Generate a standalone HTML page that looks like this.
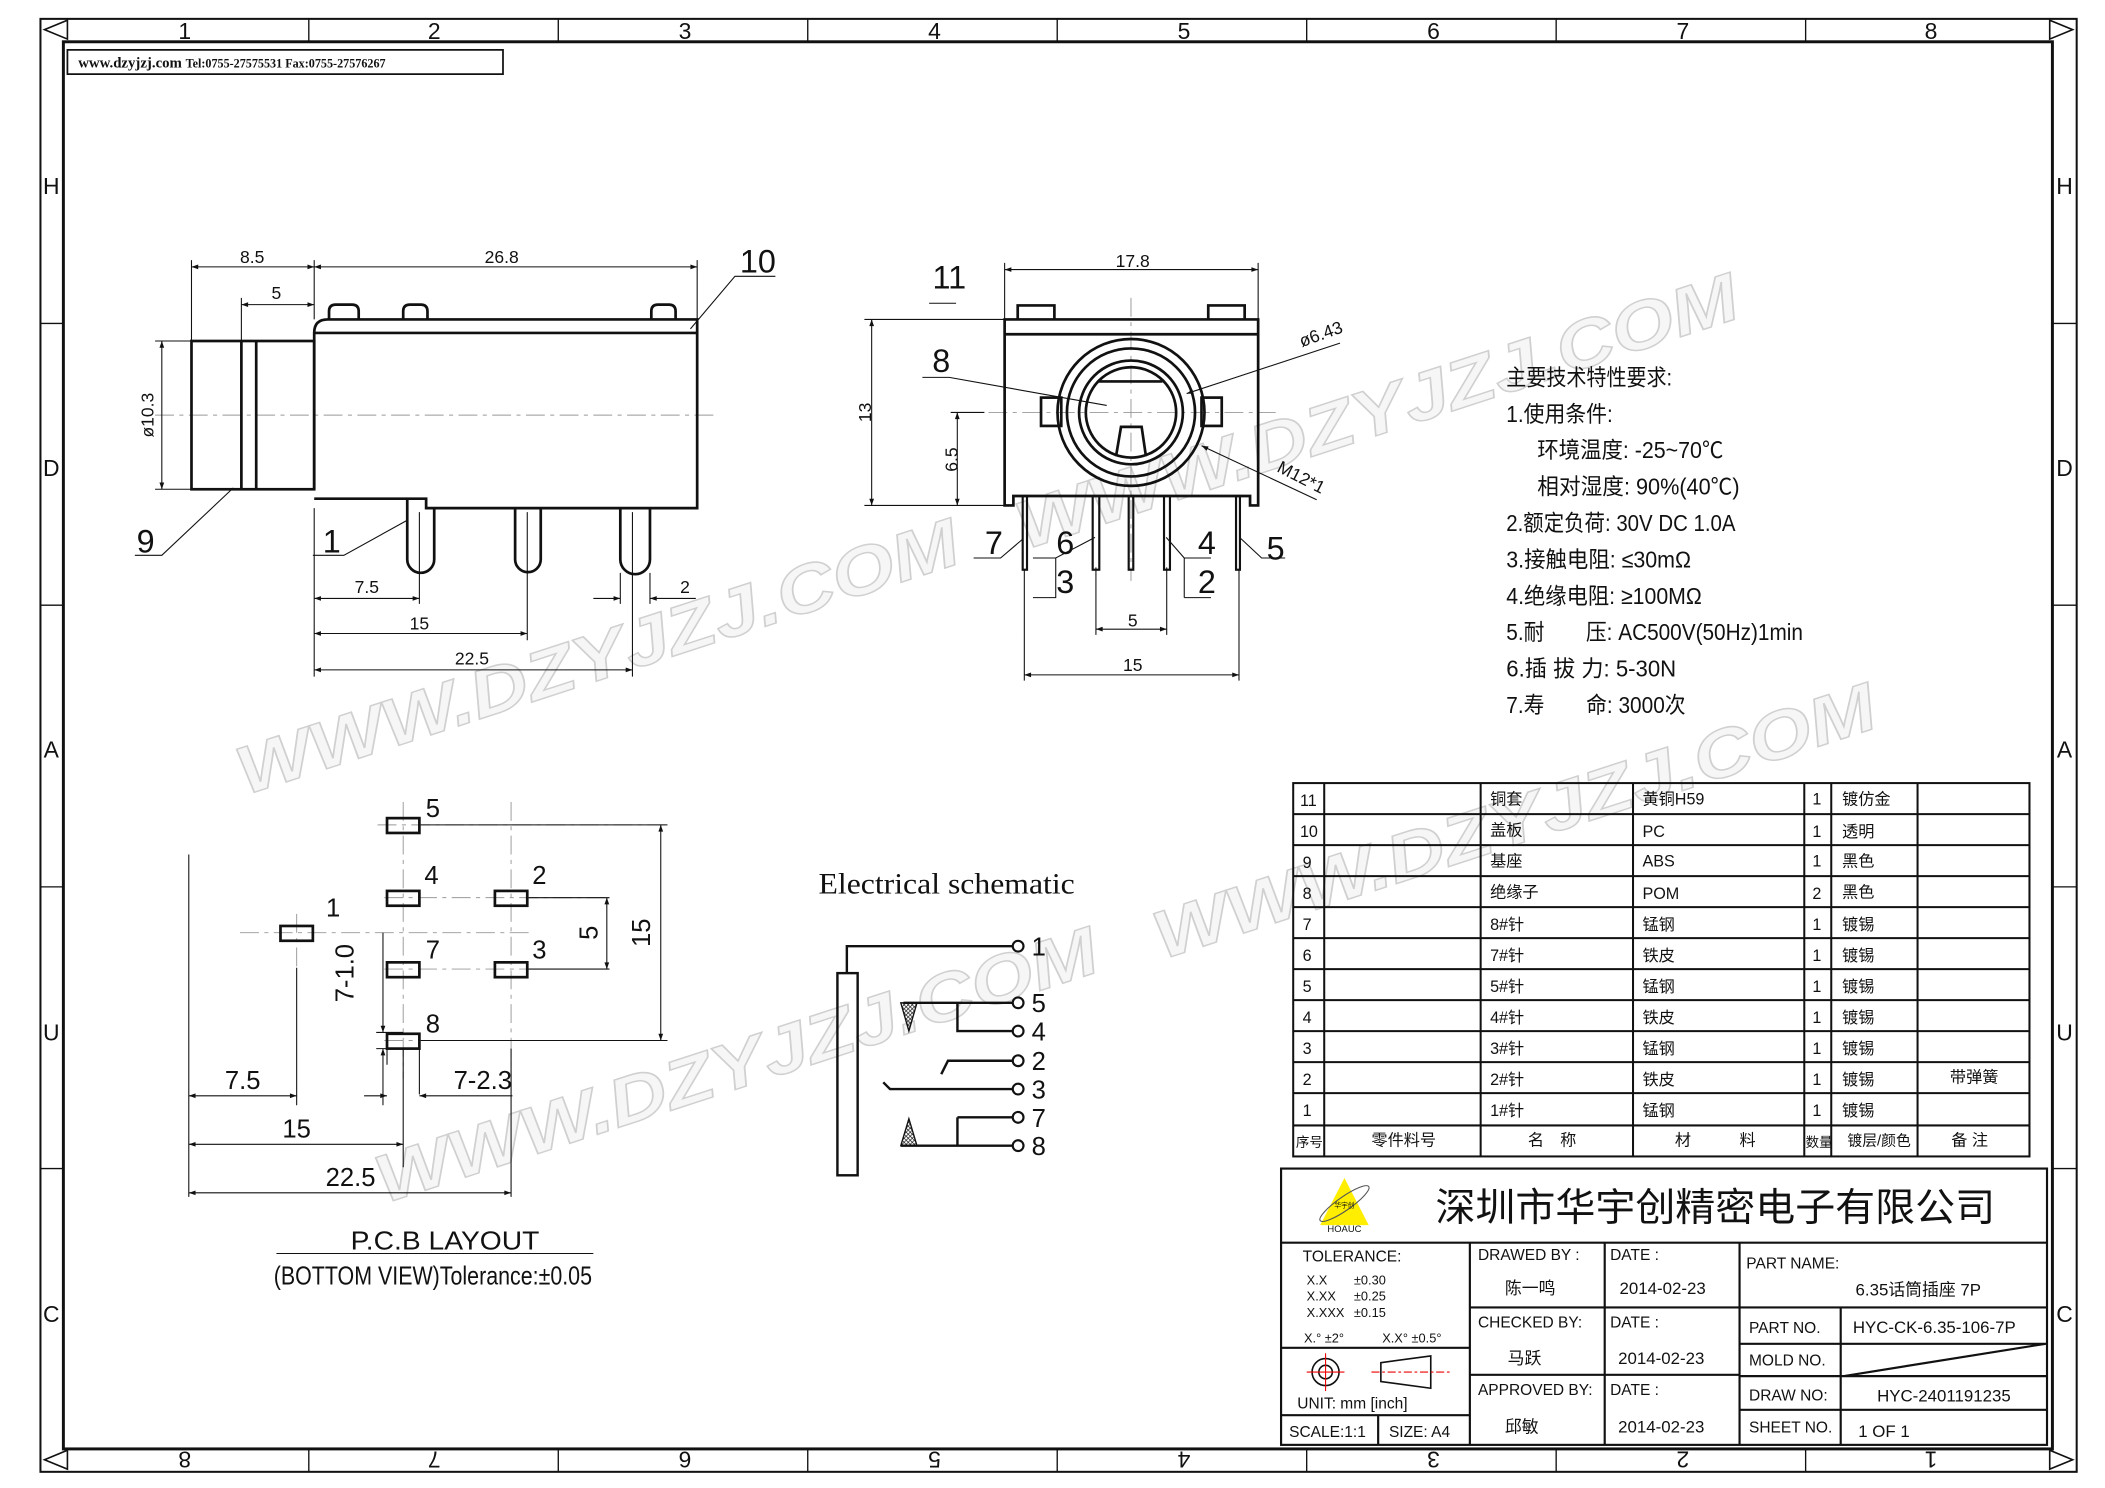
<!DOCTYPE html>
<html><head><meta charset="utf-8"><style>
html,body{margin:0;padding:0;background:#fff}
svg{display:block}
text{font-family:"Liberation Sans","Noto Sans CJK SC",sans-serif;fill:#111}
.s{font-family:"Liberation Serif","Noto Serif CJK SC","Noto Sans CJK SC",serif}
.k{stroke:#111;fill:none}
.th{stroke-width:2}
.tn{stroke-width:0.8}
.cl{stroke:#999;stroke-width:0.7;stroke-dasharray:14 4 3 4;fill:none}
.wm{font-family:"Liberation Sans",sans-serif;font-weight:bold;font-style:italic;fill:#f6f6f6;stroke:#d0d0d0;stroke-width:1.1}
</style></head><body>
<svg width="2105" height="1488" viewBox="0 0 1561 1104" preserveAspectRatio="none" xmlns="http://www.w3.org/2000/svg">
<defs>
<marker id="a" viewBox="0 0 10 10" refX="10" refY="5" markerWidth="9" markerHeight="5" orient="auto-start-reverse" markerUnits="userSpaceOnUse"><path d="M0,1.5 L10,5 L0,8.5 z" fill="#111"/></marker>
<pattern id="h" width="3" height="3" patternUnits="userSpaceOnUse"><path d="M0,0L3,3M3,0L0,3" stroke="#111" stroke-width="0.5"/></pattern>
</defs>

<g>
<text class="wm" font-size="50" textLength="560" lengthAdjust="spacingAndGlyphs" transform="translate(182,590) rotate(-18)">WWW.DZYJZJ.COM</text>
<text class="wm" font-size="50" textLength="560" lengthAdjust="spacingAndGlyphs" transform="translate(285,893) rotate(-18)">WWW.DZYJZJ.COM</text>
<text class="wm" font-size="50" textLength="560" lengthAdjust="spacingAndGlyphs" transform="translate(862,712) rotate(-18)">WWW.DZYJZJ.COM</text>
<text class="wm" font-size="50" textLength="560" lengthAdjust="spacingAndGlyphs" transform="translate(760,408) rotate(-18)">WWW.DZYJZJ.COM</text>
</g>

<rect x="30" y="14" width="1510" height="1078" class="k" stroke-width="1.5"/>
<rect x="47" y="31" width="1475" height="1044" class="k" stroke-width="2.2"/>
<g class="k" stroke-width="1">
<path d="M229,14V31M414,14V31M599,14V31M784,14V31M969,14V31M1154,14V31M1339,14V31"/>
<path d="M229,1075V1092M414,1075V1092M599,1075V1092M784,1075V1092M969,1075V1092M1154,1075V1092M1339,1075V1092"/>
<path d="M30,240H47M30,449H47M30,658H47M30,867H47M1522,240H1540M1522,449H1540M1522,658H1540M1522,867H1540"/>
</g>
<g class="k" stroke-width="1.2">
<path d="M33,22 L50,15 L50,29 Z"/><path d="M1537,22 L1520,15 L1520,29 Z"/>
<path d="M33,1083 L50,1076 L50,1090 Z"/><path d="M1537,1083 L1520,1076 L1520,1090 Z"/>
</g>
<g font-size="17" text-anchor="middle">
<text x="137" y="29">1</text><text x="322" y="29">2</text><text x="508" y="29">3</text><text x="693" y="29">4</text><text x="878" y="29">5</text><text x="1063" y="29">6</text><text x="1248" y="29">7</text><text x="1432" y="29">8</text>
<text x="38" y="144">H</text><text x="38" y="353">D</text><text x="38" y="562">A</text><text x="38" y="772">U</text><text x="38" y="981">C</text>
<text x="1531" y="144">H</text><text x="1531" y="353">D</text><text x="1531" y="562">A</text><text x="1531" y="772">U</text><text x="1531" y="981">C</text>
<text transform="translate(137,1077) rotate(180)">8</text><text transform="translate(322,1077) rotate(180)">7</text><text transform="translate(508,1077) rotate(180)">6</text><text transform="translate(693,1077) rotate(180)">5</text><text transform="translate(878,1077) rotate(180)">4</text><text transform="translate(1063,1077) rotate(180)">3</text><text transform="translate(1248,1077) rotate(180)">2</text><text transform="translate(1432,1077) rotate(180)">1</text>
</g>
<rect x="50" y="37" width="323" height="18" class="k" stroke-width="1.3"/>
<text class="s" x="58" y="50" font-size="11" font-weight="bold">www.dzyjzj.com  <tspan font-size="9">Tel:0755-27575531  Fax:0755-27576267</tspan></text>

<!-- side view -->
<path class="cl" d="M115,308H530"/>
<g class="k th">
<rect x="142" y="253" width="91" height="110"/>
<path d="M179,253V363M190,253V363"/>
<path d="M233,363V247 Q233,237 243,237 H517 V377 H316 V370 H233"/>
<path d="M233,247H517"/>
<path d="M244,237V231 Q244,226 249,226 H261 Q266,226 266,231 V237"/>
<path d="M299,237V231 Q299,226 304,226 H312 Q317,226 317,231 V237"/>
<path d="M483,237V231 Q483,226 488,226 H496 Q501,226 501,231 V237"/>
<path d="M302,370V415 A10,10 0 0 0 322,415 V377"/>
<path d="M382,377V415 A9.5,9.5 0 0 0 401,415 V377"/>
<path d="M460,377V415 A11,11 0 0 0 482,415 V377"/>
</g>
<g class="k tn">
<path d="M142,193V253M233,193V237M517,193V240M179,221V253"/>
<path d="M142,198H233" marker-start="url(#a)" marker-end="url(#a)"/>
<path d="M233,198H517" marker-start="url(#a)" marker-end="url(#a)"/>
<path d="M179,226H233" marker-start="url(#a)" marker-end="url(#a)"/>
<path d="M115,253H142M115,363H142"/>
<path d="M120,253V363" marker-start="url(#a)" marker-end="url(#a)"/>
<path d="M233,377V502M311,380V448M391,380V475M469,380V502M460,425V448M482,425V448"/>
<path d="M233,444H311" marker-start="url(#a)" marker-end="url(#a)"/>
<path d="M233,470H391" marker-start="url(#a)" marker-end="url(#a)"/>
<path d="M233,497H469" marker-start="url(#a)" marker-end="url(#a)"/>
<path d="M440,444H460" marker-end="url(#a)"/><path d="M516,444H482" marker-end="url(#a)"/>
<path d="M173,362L120,412H100M302,386L255,412H232M512,244L545,205H575"/>
</g>
<g font-size="13" text-anchor="middle">
<text x="187" y="195">8.5</text><text x="372" y="195">26.8</text><text x="205" y="222">5</text>
<text x="272" y="440">7.5</text><text x="311" y="467">15</text><text x="350" y="493">22.5</text><text x="508" y="440">2</text>
<text transform="translate(114,308) rotate(-90)">ø10.3</text>
</g>
<g class="s" font-size="24" text-anchor="middle">
<text x="108" y="410">9</text><text x="246" y="410">1</text><text x="562" y="202">10</text>
</g>

<!-- front view -->
<path class="cl" d="M708,306H946M838.7,221V431"/>
<g class="k th">
<path d="M745,375V237H933V375H927V368H751.5V375Z"/>
<path d="M745,248H933"/>
<path d="M754.7,237V226.6H781.9V237M896,237V226.6H923V237"/>
<circle cx="838.7" cy="306" r="54.5"/><circle cx="838.7" cy="306" r="47.5"/>
<circle cx="838.7" cy="306" r="38.5"/><circle cx="838.7" cy="306" r="33.5"/>
<path d="M815,283H862"/>
<rect x="772" y="295" width="15" height="21"/><rect x="891" y="295" width="15" height="21"/>
<path d="M827.6,338.6L831.3,316.7H846.6L849.8,338.6"/>
</g>
<g class="k" stroke-width="1.6">
<rect x="758.4" y="368" width="3.2" height="54.7"/>
<rect x="810.3" y="368" width="4.9" height="54.7"/>
<rect x="837" y="368" width="3.4" height="54.7"/>
<rect x="863.2" y="368" width="4.4" height="54.7"/>
<rect x="916.6" y="368" width="2.9" height="54.7"/>
</g>
<g class="k tn">
<path d="M745,195V237M933,195V237"/>
<path d="M745,200H933" marker-start="url(#a)" marker-end="url(#a)"/>
<path d="M641,237H745M641,375H745M705,306H730"/>
<path d="M646.4,237V375" marker-start="url(#a)" marker-end="url(#a)"/>
<path d="M709.9,306V375" marker-start="url(#a)" marker-end="url(#a)"/>
<path d="M689,225H709M684,280H704L820.7,300.8"/>
<path d="M993.7,254.6L880,292" marker-end="url(#a)"/>
<path d="M976.4,370.8L891,330.7" marker-end="url(#a)"/>
<path d="M722,414H742L758.4,400M766,414H782.9L812,398.7M766,443.4H782.9V414M878.2,443.4V414L864.8,398.7M878.2,414H898M878.2,443.4H898M953,414H935.6L919.5,399"/>
<path d="M812.7,421V471M865.2,421V471M759.6,423V505M918.8,423V505"/>
<path d="M812.7,466.8H865.2" marker-start="url(#a)" marker-end="url(#a)"/>
<path d="M759.6,500.7H918.8" marker-start="url(#a)" marker-end="url(#a)"/>
</g>
<g font-size="13" text-anchor="middle">
<text x="840" y="198">17.8</text>
<text transform="translate(646,306) rotate(-90)">13</text>
<text transform="translate(710,341) rotate(-90)">6.5</text>
<text transform="translate(981,252) rotate(-20)">ø6.43</text>
<text transform="translate(963,358) rotate(27)">M12*1</text>
<text x="840" y="465">5</text><text x="840" y="498">15</text>
</g>
<g class="s" font-size="24" text-anchor="middle">
<text x="704" y="214">11</text><text x="698" y="276">8</text>
<text x="737" y="411">7</text><text x="790" y="411">6</text><text x="790" y="440">3</text>
<text x="895" y="411">4</text><text x="895" y="440">2</text><text x="946" y="415">5</text>
</g>

<!-- specs -->
<g class="s" font-size="17" lengthAdjust="spacingAndGlyphs">
<text x="1117" y="286" textLength="123" lengthAdjust="spacingAndGlyphs">主要技术特性要求:</text>
<text x="1117" y="313" textLength="79" lengthAdjust="spacingAndGlyphs">1.使用条件:</text>
<text x="1140" y="340" textLength="138" lengthAdjust="spacingAndGlyphs">环境温度: -25~70℃</text>
<text x="1140" y="367" textLength="150" lengthAdjust="spacingAndGlyphs">相对湿度: 90%(40℃)</text>
<text x="1117" y="394" textLength="170" lengthAdjust="spacingAndGlyphs">2.额定负荷: 30V DC 1.0A</text>
<text x="1117" y="421" textLength="137" lengthAdjust="spacingAndGlyphs">3.接触电阻: ≤30mΩ</text>
<text x="1117" y="448" textLength="145" lengthAdjust="spacingAndGlyphs">4.绝缘电阻: ≥100MΩ</text>
<text x="1117" y="475" textLength="220" lengthAdjust="spacingAndGlyphs">5.耐　　压: AC500V(50Hz)1min</text>
<text x="1117" y="502" textLength="126" lengthAdjust="spacingAndGlyphs">6.插 拔 力: 5-30N</text>
<text x="1117" y="529" textLength="133" lengthAdjust="spacingAndGlyphs">7.寿　　命: 3000次</text>
</g>

<!-- PCB layout -->
<g class="cl">
<path d="M299,595V800M379,595V812M220,678V720M280,612H495M285,666H450M178,692H395M285,719H450M285,772H495"/>
</g>
<g class="k" stroke-width="2">
<rect x="287" y="607" width="24" height="11"/><rect x="287" y="661" width="24" height="11"/><rect x="367" y="661" width="24" height="11"/>
<rect x="208" y="687" width="24" height="11"/><rect x="287" y="714" width="24" height="11"/><rect x="367" y="714" width="24" height="11"/>
<rect x="287" y="767" width="24" height="11"/>
</g>
<g class="k tn">
<path d="M140,634V888M220,718V820M299,778V866M379,778V888M287,766V790M311,778V812"/>
<path d="M312,612H495M312,772H495M392,666H452M392,719H452"/>
<path d="M490,612V772" marker-start="url(#a)" marker-end="url(#a)"/>
<path d="M450,666V719" marker-start="url(#a)" marker-end="url(#a)"/>
<path d="M279,766H299M279,778H299"/>
<path d="M284,692V766" marker-end="url(#a)"/><path d="M284,820V778" marker-end="url(#a)"/>
<path d="M140,813H220" marker-start="url(#a)" marker-end="url(#a)"/>
<path d="M140,849H299" marker-start="url(#a)" marker-end="url(#a)"/>
<path d="M140,885H379" marker-start="url(#a)" marker-end="url(#a)"/>
<path d="M270,813H287" marker-end="url(#a)"/><path d="M380,813H311" marker-end="url(#a)"/>
<path d="M205,930H440"/>
</g>
<g class="s" font-size="19" text-anchor="middle">
<text x="321" y="606">5</text><text x="320" y="656">4</text><text x="400" y="656">2</text><text x="247" y="680">1</text>
<text x="321" y="711">7</text><text x="400" y="711">3</text><text x="321" y="766">8</text>
<text x="180" y="808">7.5</text><text x="220" y="844">15</text><text x="260" y="880">22.5</text><text x="358" y="808">7-2.3</text>
<text transform="translate(262,722) rotate(-90)">7-1.0</text>
<text transform="translate(443,692) rotate(-90)">5</text>
<text transform="translate(482,692) rotate(-90)">15</text>
<text x="330" y="927" textLength="140" lengthAdjust="spacingAndGlyphs">P.C.B LAYOUT</text>
<text x="321" y="953" textLength="236" lengthAdjust="spacingAndGlyphs">(BOTTOM VIEW)Tolerance:±0.05</text>
</g>

<!-- schematic -->
<text class="s" x="702" y="663" font-size="22" text-anchor="middle" textLength="190" lengthAdjust="spacingAndGlyphs">Electrical schematic</text>
<g class="k" stroke-width="1.8">
<rect x="621" y="722" width="15" height="150"/>
<path d="M628,722V702H751"/>
<path d="M670,744H751M710,744V765H751M698,797L703,787H751M655,803L660,808H751M710,829H751M710,829V850M668,850H751"/>
</g>
<path d="M668,744H680L674,765Z" fill="url(#h)" stroke="#111" stroke-width="1"/>
<path d="M674,830L680,850H668Z" fill="url(#h)" stroke="#111" stroke-width="1"/>
<g class="k" stroke-width="1.6" fill="#fff">
<circle cx="755" cy="702" r="4"/><circle cx="755" cy="744" r="4"/><circle cx="755" cy="765" r="4"/><circle cx="755" cy="787" r="4"/><circle cx="755" cy="808" r="4"/><circle cx="755" cy="829" r="4"/><circle cx="755" cy="850" r="4"/>
</g>
<g class="s" font-size="19">
<text x="765" y="709">1</text><text x="765" y="751">5</text><text x="765" y="772">4</text><text x="765" y="794">2</text><text x="765" y="815">3</text><text x="765" y="836">7</text><text x="765" y="857">8</text>
</g>

<!-- parts table -->
<g class="k" stroke-width="1.5">
<rect x="959" y="581" width="546" height="277"/>
<path d="M982,581V858M1098,581V858M1211,581V858M1338,581V858M1358,581V858M1422,581V858M1505,581V858"/>
<path d="M959,604H1505M959,627H1505M959,650H1505M959,673H1505M959,696H1505M959,719H1505M959,742H1505M959,765H1505M959,788H1505M959,811H1505M959,835H1505"/>
</g>
<g class="s" font-size="12">
<text x="964" y="598">11</text><text x="1105" y="597">铜套</text><text x="1218" y="597">黄铜H59</text><text x="1344" y="597">1</text><text x="1366" y="597">镀仿金</text>
<text x="964" y="621">10</text><text x="1105" y="620">盖板</text><text x="1218" y="621">PC</text><text x="1344" y="621">1</text><text x="1366" y="621">透明</text>
<text x="966" y="644">9</text><text x="1105" y="643">基座</text><text x="1218" y="643">ABS</text><text x="1344" y="643">1</text><text x="1366" y="643">黑色</text>
<text x="966" y="667">8</text><text x="1105" y="666">绝缘子</text><text x="1218" y="667">POM</text><text x="1344" y="667">2</text><text x="1366" y="666">黑色</text>
<text x="966" y="690">7</text><text x="1105" y="690">8#针</text><text x="1218" y="690">锰钢</text><text x="1344" y="690">1</text><text x="1366" y="690">镀锡</text>
<text x="966" y="713">6</text><text x="1105" y="713">7#针</text><text x="1218" y="713">铁皮</text><text x="1344" y="713">1</text><text x="1366" y="713">镀锡</text>
<text x="966" y="736">5</text><text x="1105" y="736">5#针</text><text x="1218" y="736">锰钢</text><text x="1344" y="736">1</text><text x="1366" y="736">镀锡</text>
<text x="966" y="759">4</text><text x="1105" y="759">4#针</text><text x="1218" y="759">铁皮</text><text x="1344" y="759">1</text><text x="1366" y="759">镀锡</text>
<text x="966" y="782">3</text><text x="1105" y="782">3#针</text><text x="1218" y="782">锰钢</text><text x="1344" y="782">1</text><text x="1366" y="782">镀锡</text>
<text x="966" y="805">2</text><text x="1105" y="805">2#针</text><text x="1218" y="805">铁皮</text><text x="1344" y="805">1</text><text x="1366" y="805">镀锡</text><text x="1446" y="803">带弹簧</text>
<text x="966" y="828">1</text><text x="1105" y="828">1#针</text><text x="1218" y="828">锰钢</text><text x="1344" y="828">1</text><text x="1366" y="828">镀锡</text>
<text x="961" y="851" font-size="10">序号</text><text x="1017" y="850">零件料号</text><text x="1133" y="850">名　称</text><text x="1242" y="850">材　　　料</text>
<text x="1339" y="851" font-size="10">数量</text><text x="1370" y="850" font-size="11">镀层/颜色</text><text x="1447" y="850">备 注</text>
</g>

<!-- title block -->
<g class="k" stroke-width="1.6">
<rect x="950" y="867" width="568" height="205"/>
<path d="M950,922H1518M1090,922V1072M1190,922V1072M1290,922V1072M1090,970H1290M1090,1020H1290"/>
<path d="M950,1000H1090M950,1050H1090M1022,1050V1072"/>
<path d="M1290,970H1518M1290,997H1518M1290,1021H1518M1290,1046H1518M1365,970V1072M1367,1021L1517,997"/>
</g>
<path d="M997,874L1015,909H979Z" fill="#ffee00"/>
<ellipse cx="997" cy="893" rx="22" ry="5" fill="none" stroke="#555" stroke-width="0.8" transform="rotate(-35 997 893)"/>
<text x="997" y="896" font-size="5" text-anchor="middle" fill="#633">华宇创</text>
<text x="997" y="914" font-size="7" text-anchor="middle">HOAUC</text>
<text x="1272" y="906" font-size="29" text-anchor="middle" font-family="'Noto Sans CJK SC',sans-serif" textLength="415" lengthAdjust="spacingAndGlyphs">深圳市华宇创精密电子有限公司</text>
<g font-size="11.5">
<text x="966" y="936">TOLERANCE:</text>
<text x="969" y="953" font-size="9.5">X.X</text><text x="1004" y="953" font-size="9.5">±0.30</text>
<text x="969" y="965" font-size="9.5">X.XX</text><text x="1004" y="965" font-size="9.5">±0.25</text>
<text x="969" y="977" font-size="9.5">X.XXX</text><text x="1004" y="977" font-size="9.5">±0.15</text>
<text x="967" y="996" font-size="9.5">X.° ±2°</text><text x="1025" y="996" font-size="9.5">X.X° ±0.5°</text>
<text x="962" y="1045">UNIT:  mm  [inch]</text>
<text x="956" y="1066">SCALE:1:1</text><text x="1030" y="1066">SIZE:  A4</text>
<text x="1096" y="935">DRAWED  BY :</text><text x="1194" y="935">DATE  :</text>
<text x="1096" y="985">CHECKED  BY:</text><text x="1194" y="985">DATE  :</text>
<text x="1096" y="1035">APPROVED  BY:</text><text x="1194" y="1035">DATE  :</text>
<text x="1295" y="941">PART  NAME:</text>
<text x="1297" y="989">PART  NO.</text><text x="1297" y="1013">MOLD  NO.</text><text x="1297" y="1039">DRAW  NO:</text><text x="1297" y="1063">SHEET  NO.</text>
</g>
<g class="s" font-size="12.5">
<text x="1116" y="960">陈一鸣</text><text x="1201" y="960">2014-02-23</text>
<text x="1118" y="1012">马跃</text><text x="1200" y="1012">2014-02-23</text>
<text x="1116" y="1063">邱敏</text><text x="1200" y="1063">2014-02-23</text>
<text x="1376" y="961">6.35话筒插座 7P</text>
<text x="1374" y="989">HYC-CK-6.35-106-7P</text>
<text x="1392" y="1040">HYC-2401191235</text>
<text x="1378" y="1066">1 OF 1</text>
</g>
<g stroke-width="1.2" fill="none">
<circle cx="983" cy="1018" r="10" stroke="#111"/><circle cx="983" cy="1018" r="5" stroke="#111"/>
<path d="M969,1018H997M983,1004V1032" stroke="#e00" stroke-width="0.8"/>
<path d="M1024,1011L1061,1006V1030L1024,1025Z" stroke="#111"/>
<path d="M1017,1018H1076" stroke="#e00" stroke-width="0.8" stroke-dasharray="6 2 2 2"/>
</g>
</svg>
</body></html>
